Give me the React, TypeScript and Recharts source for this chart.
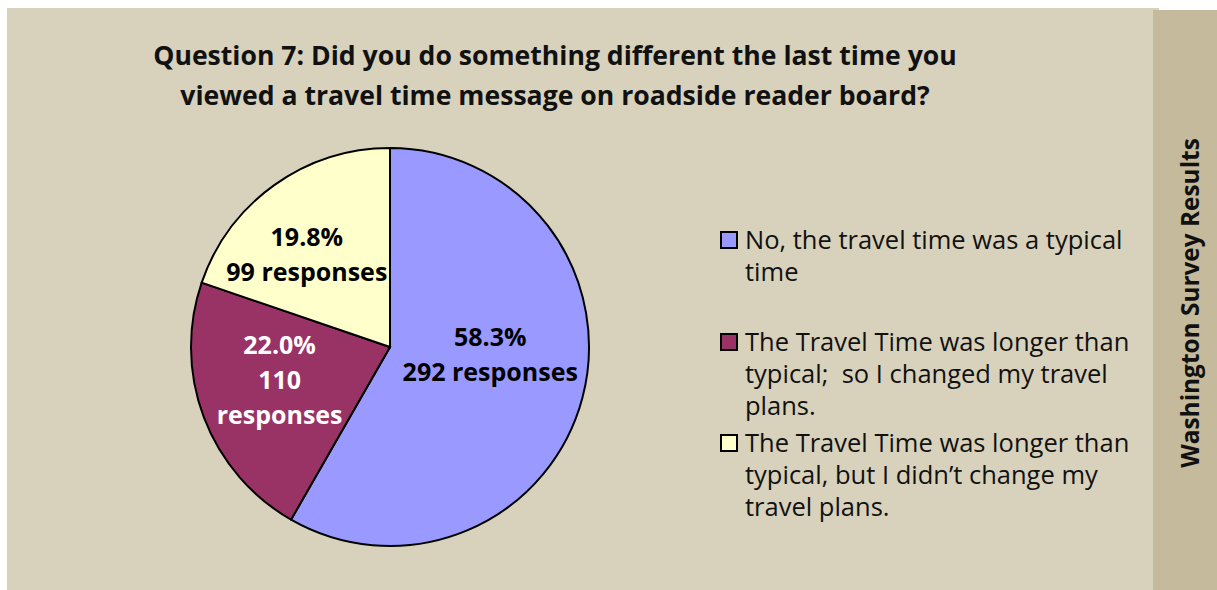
import React from 'react';
import { PieChart, Pie, Cell, Legend } from 'recharts';

const categories = [
  'No, the travel time was a typical time',
  'The Travel Time was longer than typical;  so I changed my travel plans.',
  'The Travel Time was longer than typical, but I didn\u2019t change my travel plans.',
];
const responses = [292, 110, 99];
const percentLabels = ['58.3%', '22.0%', '19.8%'];
const sliceColors = ['#9999ff', '#993366', '#ffffcc'];
const labelColors = ['#000000', '#ffffff', '#000000'];

const chartTitle = ['Question 7: Did you do something different the last time you', 'viewed a travel time message on roadside reader board?'];
const sideTitle = 'Washington Survey Results';

const data = categories.map((name, i) => ({ name, value: responses[i], pct: percentLabels[i] }));

const FONT = '"Open Sans", Lato, sans-serif';

// label layout tuning
const labelRadius = 0.55;
const labelShiftX = [-5.5, -8, -19.5];
const labelShiftY = [-22, -7, -4];

const renderLabel = (props: any) => {
  const { cx, cy, midAngle, outerRadius, index } = props;
  const RAD = Math.PI / 180;
  const r = outerRadius * labelRadius;
  const x = cx + r * Math.cos(-midAngle * RAD) + labelShiftX[index];
  const y = cy + r * Math.sin(-midAngle * RAD) + labelShiftY[index];
  const d = data[index];
  const lines = index === 1 ? [d.pct, String(d.value), 'responses'] : [d.pct, `${d.value} responses`];
  const lh = 35;
  const start = y - ((lines.length - 1) * lh) / 2;
  return (
    <text x={x} y={start} textAnchor="middle" fill={labelColors[index]} fontFamily={FONT} fontWeight={700} fontSize={25}>
      {lines.map((l, i) => (
        <tspan key={i} x={x} y={start + i * lh} dominantBaseline="central">{l}</tspan>
      ))}
    </text>
  );
};

const LegendContent = (props: any) => {
  const { payload } = props;
  return (
    <div style={{ width: 430 }}>
      {(payload || []).map((entry: any, i: number) => (
        <div key={i} style={{ display: 'flex', alignItems: 'flex-start', height: 101.5 }}>
          <div style={{ width: 14, height: 14, background: entry.color, border: '2px solid #000', marginTop: 8, marginRight: 7, flexShrink: 0 }} />
          <div style={{ fontFamily: FONT, fontSize: 25.5, lineHeight: '32px', color: '#111', width: 400, whiteSpace: 'pre-wrap' }}>{entry.value}</div>
        </div>
      ))}
    </div>
  );
};

export default function App() {
  return (
    <div style={{ position: 'fixed', left: 0, top: 0, width: 1217, height: 590, background: '#ffffff', overflow: 'hidden' }}>
      <div style={{ position: 'absolute', left: 7, top: 8, width: 1152, height: 582, background: '#d8d2bc' }} />
      <div style={{ position: 'absolute', left: 1153, top: 10, width: 64, height: 580, background: '#c5ba9b' }} />
      <div style={{ position: 'absolute', left: 1190 - 200, top: 303 - 20, width: 400, height: 40, transform: 'rotate(-90deg)', textAlign: 'center', fontFamily: FONT, fontWeight: 700, fontSize: 24.4, lineHeight: '40px', color: '#111' }}>{sideTitle}</div>
      <div style={{ position: 'absolute', left: 55, top: 35, width: 1000, textAlign: 'center', fontFamily: FONT, fontWeight: 700, fontSize: 26.6, lineHeight: '40px', color: '#111' }}>
        {chartTitle.map((t, i) => (<div key={i}>{t}</div>))}
      </div>
      <div style={{ position: 'absolute', left: 0, top: 0 }}>
        <PieChart width={1217} height={590} margin={{ top: 0, right: 0, bottom: 0, left: 0 }}>
          <Pie
            data={data}
            dataKey="value"
            nameKey="name"
            cx={390}
            cy={347}
            outerRadius={199}
            startAngle={90}
            endAngle={-270}
            stroke="#000"
            strokeWidth={2}
            label={renderLabel}
            labelLine={false}
            isAnimationActive={false}
          >
            {data.map((_, i) => (
              <Cell key={i} fill={sliceColors[i]} />
            ))}
          </Pie>
          <Legend
            layout="vertical"
            itemSorter={() => 0}
            content={<LegendContent />}
            wrapperStyle={{ position: 'absolute', left: 720, top: 223, width: 430 }}
          />
        </PieChart>
      </div>
    </div>
  );
}
